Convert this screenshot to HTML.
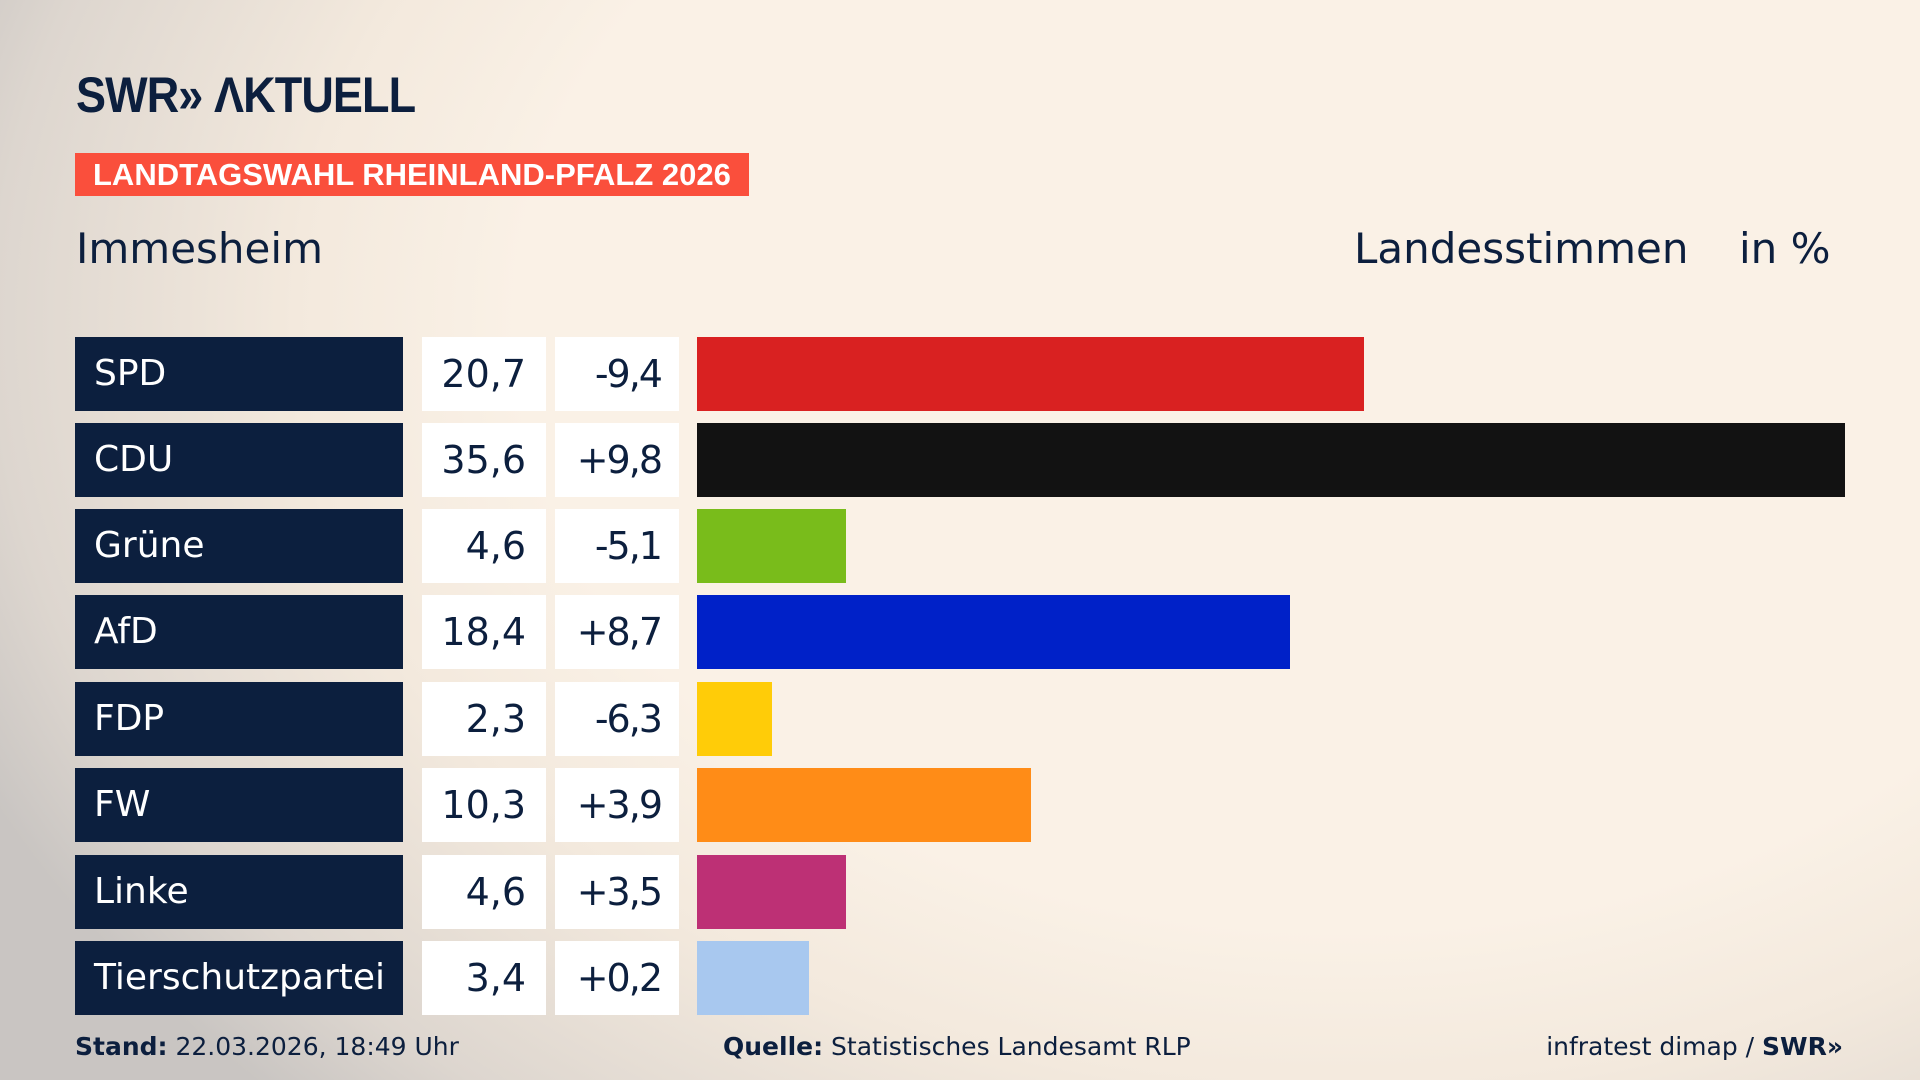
<!DOCTYPE html>
<html><head><meta charset="utf-8"><style>
*{margin:0;padding:0;box-sizing:border-box}
body{width:1920px;height:1080px;overflow:hidden;font-family:"DejaVu Sans","Liberation Sans",sans-serif;color:#0c1f3e;
background:radial-gradient(ellipse 1500px 1100px at 70% 30%,#faf1e6 55%,#f3e9dd 70%,#ddd6cf 90%,#c9c5c2 100%);position:relative}
.abs{position:absolute;white-space:nowrap}
.logo{left:76px;top:66px;font-family:"Liberation Sans",sans-serif;font-weight:bold;font-size:50px;letter-spacing:-1px;color:#0c1f3e;transform:scaleX(0.9);transform-origin:left}
.banner{left:75px;top:153px;width:674px;height:43px;background:#fa4f3c;color:#fff;font-family:"Liberation Sans",sans-serif;font-weight:bold;font-size:31px;line-height:43px;padding-left:18px}
.h{top:222px;font-size:42px;line-height:54px}
.lab{left:75px;width:328px;height:74px;background:#0c1f3e;color:#fff;font-size:36px;line-height:74px;padding-left:19px}
.val,.chg{width:124px;height:74px;background:#fff;font-size:38px;line-height:74px;display:flex;justify-content:flex-end;padding-right:20px}
.val{left:422px}.chg{left:555px;letter-spacing:-2px;padding-right:18px}
.bar{left:697px;height:74px}
.foot{top:1030px;font-size:25px;line-height:34px}
</style></head><body>
<div class="abs logo">SWR&#187; &#923;KTUELL</div>
<div class="abs banner">LANDTAGSWAHL RHEINLAND-PFALZ 2026</div>
<div class="abs h" style="left:76px">Immesheim</div>
<div class="abs h" style="left:1354px">Landesstimmen</div>
<div class="abs h" style="left:1739px">in %</div>

<div class="abs lab" style="top:337px">SPD</div><div class="abs val" style="top:337px">20,7</div><div class="abs chg" style="top:337px">-9,4</div><div class="abs bar" style="top:337px;width:667px;background:#d92121"></div>
<div class="abs lab" style="top:423px">CDU</div><div class="abs val" style="top:423px">35,6</div><div class="abs chg" style="top:423px">+9,8</div><div class="abs bar" style="top:423px;width:1148px;background:#121212"></div>
<div class="abs lab" style="top:509px">Grüne</div><div class="abs val" style="top:509px">4,6</div><div class="abs chg" style="top:509px">-5,1</div><div class="abs bar" style="top:509px;width:149px;background:#79bc1b"></div>
<div class="abs lab" style="top:595px">AfD</div><div class="abs val" style="top:595px">18,4</div><div class="abs chg" style="top:595px">+8,7</div><div class="abs bar" style="top:595px;width:593px;background:#0021c8"></div>
<div class="abs lab" style="top:682px">FDP</div><div class="abs val" style="top:682px">2,3</div><div class="abs chg" style="top:682px">-6,3</div><div class="abs bar" style="top:682px;width:75px;background:#ffcc08"></div>
<div class="abs lab" style="top:768px">FW</div><div class="abs val" style="top:768px">10,3</div><div class="abs chg" style="top:768px">+3,9</div><div class="abs bar" style="top:768px;width:334px;background:#ff8c17"></div>
<div class="abs lab" style="top:855px">Linke</div><div class="abs val" style="top:855px">4,6</div><div class="abs chg" style="top:855px">+3,5</div><div class="abs bar" style="top:855px;width:149px;background:#bd3075"></div>
<div class="abs lab" style="top:941px">Tierschutzpartei</div><div class="abs val" style="top:941px">3,4</div><div class="abs chg" style="top:941px">+0,2</div><div class="abs bar" style="top:941px;width:112px;background:#a8c8ef"></div>

<div class="abs foot" style="left:75px"><b>Stand:</b> 22.03.2026, 18:49 Uhr</div>
<div class="abs foot" style="left:723px"><b>Quelle:</b> Statistisches Landesamt RLP</div>
<div class="abs foot" style="right:77px">infratest dimap / <b>SWR&#187;</b></div>
</body></html>
